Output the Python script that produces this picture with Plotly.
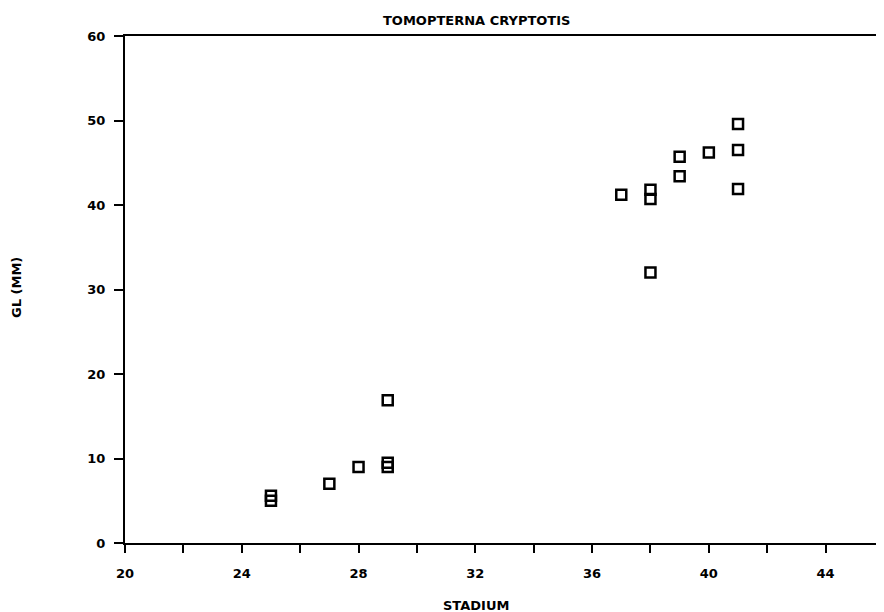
import plotly.graph_objects as go

stadium = [25, 25, 27, 28, 29, 29, 29, 37, 38, 38, 38, 39, 39, 40, 41, 41, 41]
gl_mm = [5.6, 5.0, 7.0, 9.0, 9.5, 9.0, 16.9, 41.2, 41.8, 40.7, 32.0, 45.7, 43.4, 46.2, 49.6, 46.5, 41.9]

x_ticks = [20, 24, 28, 32, 36, 40, 44]
y_ticks = [0, 10, 20, 30, 40, 50, 60]

FONT = "DejaVu Sans"

fig = go.Figure()
fig.add_trace(go.Scatter(
    x=stadium, y=gl_mm, mode="markers",
    marker=dict(symbol="square-open", size=10, color="black", line=dict(width=2.5, color="black")),
    showlegend=False,
))

fig.update_layout(
    width=876, height=604,
    margin=dict(l=117, r=0, t=28, b=69),
    paper_bgcolor="white", plot_bgcolor="white",
    font=dict(family=FONT, color="black"),
    xaxis=dict(
        range=[20, 46], tickvals=x_ticks, ticktext=[str(v) for v in x_ticks],
        showgrid=False, zeroline=False, showline=True, linecolor="black", linewidth=2,
        mirror=True, ticks="outside", ticklen=8, tickwidth=2, tickcolor="black",
        minor=dict(dtick=2, tick0=20, ticks="outside", ticklen=8, tickwidth=2, tickcolor="black", showgrid=False),
        tickfont=dict(family=FONT, size=13, color="black", weight="bold"),
        ticklabelstandoff=9,
    ),
    yaxis=dict(
        range=[0, 60], tickvals=y_ticks, ticktext=[str(v) for v in y_ticks],
        showgrid=False, zeroline=False, showline=True, linecolor="black", linewidth=2,
        ticks="outside", ticklen=9, tickwidth=2, tickcolor="black",
        tickfont=dict(family=FONT, size=13, color="black", weight="bold"),
        ticklabelstandoff=6,
    ),
    annotations=[
        dict(text="<b>TOMOPTERNA CRYPTOTIS</b>", xref="paper", yref="paper", x=0.4625, y=1,
             xanchor="center", yanchor="middle", yshift=16, showarrow=False,
             font=dict(family=FONT, size=13, color="black")),
        dict(text="<b>STADIUM</b>", xref="paper", yref="paper", x=0.4625, y=0,
             xanchor="center", yanchor="middle", yshift=-62, showarrow=False,
             font=dict(family=FONT, size=13, color="black")),
        dict(text="<b>GL (MM)</b>", xref="paper", yref="paper", x=0, y=0.503,
             xanchor="center", yanchor="middle", xshift=-108, textangle=-90, showarrow=False,
             font=dict(family=FONT, size=13, color="black")),
    ],
)

fig.write_html("out.html")
